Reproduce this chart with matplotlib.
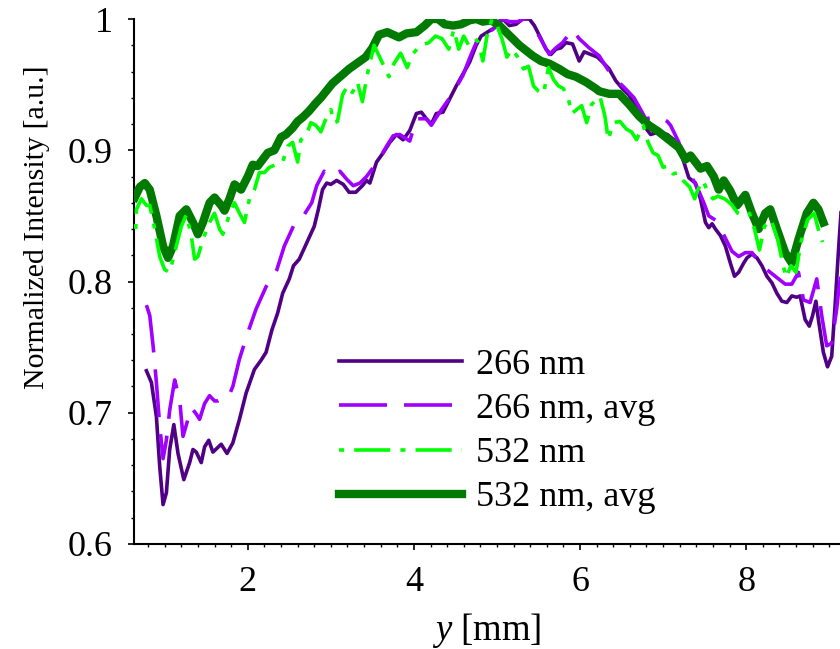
import matplotlib
matplotlib.use('Agg')
import matplotlib.pyplot as plt
from matplotlib.ticker import MultipleLocator, FuncFormatter

# Data
x_266 = [0.78, 0.84, 0.90, 0.94, 0.98, 1.02, 1.06, 1.11, 1.16, 1.23, 1.30, 1.34, 1.38, 1.44, 1.48,
         1.53, 1.58, 1.63, 1.68, 1.75, 1.82, 1.90, 1.98, 2.08, 2.16, 2.22, 2.29, 2.36, 2.42, 2.50,
         2.55, 2.62, 2.67, 2.75, 2.80, 2.85, 2.90, 2.95, 3.00, 3.07, 3.15, 3.22, 3.30, 3.38, 3.43,
         3.47, 3.55, 3.63, 3.71, 3.79, 3.87, 3.95, 4.03, 4.09, 4.15, 4.21, 4.27, 4.35, 4.43, 4.51,
         4.59, 4.67, 4.75, 4.81, 4.91, 4.99, 5.07, 5.15, 5.23, 5.31, 5.39, 5.45, 5.53, 5.59, 5.65,
         5.71, 5.77, 5.83, 5.91, 5.99, 6.05, 6.13, 6.21, 6.29, 6.35, 6.43, 6.51, 6.59, 6.67, 6.73,
         6.79, 6.85, 6.95, 7.05, 7.13, 7.19, 7.25, 7.31, 7.39, 7.45, 7.51, 7.55, 7.59, 7.63, 7.69,
         7.75, 7.81, 7.86, 7.91, 7.97, 8.01, 8.07, 8.13, 8.19, 8.25, 8.31, 8.37, 8.43, 8.49, 8.55,
         8.61, 8.65, 8.71, 8.76, 8.80, 8.84, 8.87, 8.93, 8.98, 9.03, 9.07, 9.11, 9.15]
y_266 = [0.732, 0.723, 0.697, 0.659, 0.630, 0.639, 0.672, 0.691, 0.669, 0.649, 0.662, 0.672, 0.670,
         0.662, 0.674, 0.679, 0.670, 0.673, 0.676, 0.669, 0.677, 0.695, 0.715, 0.733, 0.740, 0.746,
         0.763, 0.776, 0.791, 0.802, 0.812, 0.817, 0.824, 0.835, 0.842, 0.855, 0.870, 0.875, 0.874,
         0.877, 0.874, 0.868, 0.868, 0.873, 0.877, 0.875, 0.891, 0.898, 0.906, 0.912, 0.908, 0.915,
         0.928, 0.929, 0.924, 0.920, 0.928, 0.929, 0.939, 0.949, 0.958, 0.967, 0.980, 0.987, 0.991,
         0.994, 1.000, 0.995, 0.996, 1.000, 1.000, 0.995, 0.985, 0.977, 0.973, 0.977, 0.978, 0.982,
         0.981, 0.968, 0.975, 0.973, 0.971, 0.966, 0.962, 0.953, 0.947, 0.942, 0.933, 0.929, 0.917,
         0.912, 0.914, 0.912, 0.908, 0.903, 0.891, 0.879, 0.875, 0.863, 0.845, 0.841, 0.844, 0.840,
         0.835, 0.827, 0.814, 0.804, 0.807, 0.814, 0.818, 0.821, 0.818, 0.812, 0.804, 0.799, 0.791,
         0.785, 0.784, 0.789, 0.788, 0.789, 0.771, 0.766, 0.774, 0.785, 0.771, 0.746, 0.735, 0.743,
         0.781, 0.822, 0.860]

x_266_avg = [0.78, 0.82, 0.86, 0.90, 0.94, 0.98, 1.02, 1.06, 1.12, 1.18, 1.22, 1.28, 1.32, 1.38,
             1.42, 1.48, 1.54, 1.60, 1.64, 1.70, 1.76, 1.82, 1.90, 2.00, 2.10, 2.22, 2.35, 2.44,
             2.57, 2.67, 2.77, 2.83, 2.92, 2.99, 3.11, 3.19, 3.27, 3.35, 3.43, 3.57, 3.67, 3.75,
             3.83, 3.95, 4.03, 4.15, 4.21, 4.31, 4.41, 4.51, 4.59, 4.67, 4.75, 4.85, 4.95, 5.05,
             5.15, 5.25, 5.35, 5.41, 5.49, 5.55, 5.63, 5.71, 5.79, 5.91, 5.99, 6.11, 6.23, 6.33,
             6.43, 6.53, 6.65, 6.73, 6.79, 6.87, 6.97, 7.05, 7.09, 7.19, 7.25, 7.35, 7.43, 7.49,
             7.55, 7.65, 7.75, 7.83, 7.91, 7.99, 8.07, 8.17, 8.25, 8.35, 8.47, 8.55, 8.63, 8.69,
             8.77, 8.85, 8.91, 8.97, 9.03, 9.09, 9.11, 9.15]
y_266_avg = [0.782, 0.774, 0.751, 0.723, 0.690, 0.665, 0.679, 0.702, 0.725, 0.710, 0.682, 0.695,
             0.704, 0.699, 0.695, 0.707, 0.713, 0.709, 0.709, 0.711, 0.711, 0.720, 0.741, 0.761,
             0.779, 0.796, 0.809, 0.827, 0.845, 0.850, 0.860, 0.873, 0.884, 0.880, 0.884, 0.878,
             0.873, 0.875, 0.880, 0.892, 0.903, 0.911, 0.912, 0.907, 0.924, 0.924, 0.919, 0.929,
             0.938, 0.948, 0.957, 0.970, 0.982, 0.989, 0.992, 1.000, 0.998, 0.998, 1.001, 1.001,
             0.989, 0.982, 0.973, 0.978, 0.982, 0.992, 0.985, 0.978, 0.972, 0.962, 0.954, 0.948,
             0.940, 0.931, 0.924, 0.925, 0.925, 0.922, 0.919, 0.906, 0.893, 0.879, 0.869, 0.860,
             0.850, 0.846, 0.833, 0.823, 0.819, 0.822, 0.822, 0.814, 0.809, 0.804, 0.798, 0.798,
             0.807, 0.786, 0.784, 0.802, 0.774, 0.751, 0.753, 0.779, 0.791, 0.810]

x_532 = [0.65, 0.66, 0.72, 0.78, 0.82, 0.88, 0.94, 1.00, 1.06, 1.12, 1.20, 1.26, 1.32, 1.36, 1.40,
         1.46, 1.54, 1.60, 1.66, 1.70, 1.78, 1.84, 1.90, 1.96, 2.02, 2.08, 2.14, 2.20, 2.26, 2.34,
         2.42, 2.48, 2.54, 2.60, 2.64, 2.70, 2.76, 2.82, 2.88, 2.94, 3.00, 3.04, 3.08, 3.14, 3.20,
         3.26, 3.32, 3.38, 3.44, 3.52, 3.58, 3.64, 3.70, 3.76, 3.84, 3.92, 3.98, 4.08, 4.18, 4.26,
         4.34, 4.42, 4.48, 4.54, 4.60, 4.66, 4.74, 4.78, 4.83, 4.88, 4.94, 5.00, 5.06, 5.12, 5.18,
         5.24, 5.32, 5.38, 5.44, 5.50, 5.56, 5.62, 5.68, 5.74, 5.80, 5.86, 5.90, 5.96, 6.02, 6.08,
         6.14, 6.24, 6.30, 6.34, 6.40, 6.48, 6.56, 6.62, 6.68, 6.76, 6.82, 6.88, 6.94, 7.00, 7.06,
         7.12, 7.18, 7.24, 7.32, 7.38, 7.42, 7.48, 7.54, 7.60, 7.66, 7.74, 7.82, 7.90, 7.98, 8.04,
         8.10, 8.16, 8.22, 8.30, 8.38, 8.44, 8.48, 8.54, 8.60, 8.66, 8.74, 8.82, 8.88, 8.92]
y_532 = [0.840, 0.855, 0.863, 0.858, 0.858, 0.840, 0.819, 0.809, 0.807, 0.822, 0.842, 0.851, 0.835,
         0.817, 0.819, 0.832, 0.845, 0.852, 0.840, 0.836, 0.851, 0.860, 0.852, 0.845, 0.863, 0.870,
         0.883, 0.883, 0.887, 0.889, 0.891, 0.903, 0.906, 0.891, 0.908, 0.911, 0.921, 0.919, 0.914,
         0.924, 0.931, 0.921, 0.922, 0.942, 0.949, 0.944, 0.952, 0.937, 0.958, 0.980, 0.972, 0.964,
         0.956, 0.966, 0.974, 0.963, 0.973, 0.980, 0.982, 0.987, 0.985, 0.977, 0.992, 0.977, 0.987,
         0.980, 0.985, 0.982, 0.968, 0.987, 1.000, 0.995, 0.985, 0.971, 0.977, 0.972, 0.962, 0.964,
         0.949, 0.945, 0.943, 0.963, 0.954, 0.949, 0.947, 0.939, 0.928, 0.931, 0.934, 0.921, 0.935,
         0.941, 0.926, 0.908, 0.921, 0.922, 0.916, 0.914, 0.908, 0.919, 0.906, 0.898, 0.896, 0.887,
         0.888, 0.882, 0.883, 0.877, 0.872, 0.863, 0.870, 0.877, 0.868, 0.863, 0.865, 0.863, 0.859,
         0.852, 0.850, 0.852, 0.840, 0.824, 0.842, 0.847, 0.832, 0.814, 0.803, 0.812, 0.807, 0.830,
         0.847, 0.852, 0.837, 0.830]

x_532_avg = [0.64, 0.70, 0.76, 0.82, 0.90, 0.98, 1.04, 1.10, 1.18, 1.26, 1.34, 1.40, 1.46, 1.54,
             1.60, 1.68, 1.72, 1.78, 1.84, 1.92, 2.00, 2.06, 2.12, 2.18, 2.24, 2.32, 2.40, 2.46,
             2.54, 2.60, 2.66, 2.74, 2.82, 2.88, 3.02, 3.22, 3.42, 3.50, 3.58, 3.68, 3.75, 3.82,
             3.91, 4.03, 4.13, 4.21, 4.29, 4.37, 4.47, 4.57, 4.67, 4.75, 4.83, 4.93, 5.03, 5.11,
             5.19, 5.27, 5.35, 5.43, 5.53, 5.63, 5.75, 5.85, 5.95, 6.07, 6.19, 6.23, 6.35, 6.47,
             6.59, 6.71, 6.83, 6.95, 7.07, 7.19, 7.27, 7.33, 7.39, 7.45, 7.53, 7.61, 7.67, 7.73,
             7.81, 7.89, 7.99, 8.07, 8.15, 8.23, 8.29, 8.37, 8.47, 8.55, 8.63, 8.73, 8.81, 8.87,
             8.93]
y_532_avg = [0.864, 0.872, 0.875, 0.870, 0.850, 0.827, 0.818, 0.827, 0.850, 0.855, 0.845, 0.836,
             0.845, 0.860, 0.864, 0.858, 0.854, 0.863, 0.874, 0.870, 0.880, 0.889, 0.888, 0.893,
             0.898, 0.900, 0.910, 0.912, 0.917, 0.922, 0.925, 0.930, 0.936, 0.940, 0.951, 0.962,
             0.971, 0.978, 0.988, 0.990, 0.988, 0.986, 0.989, 0.990, 0.995, 1.000, 1.000, 0.996,
             0.995, 0.996, 0.999, 1.000, 0.998, 0.999, 0.995, 0.990, 0.985, 0.980, 0.976, 0.972,
             0.968, 0.966, 0.962, 0.958, 0.956, 0.952, 0.947, 0.945, 0.943, 0.943, 0.935, 0.926,
             0.919, 0.914, 0.908, 0.902, 0.893, 0.896, 0.891, 0.886, 0.888, 0.880, 0.870, 0.877,
             0.869, 0.858, 0.866, 0.852, 0.840, 0.852, 0.855, 0.840, 0.822, 0.814, 0.832, 0.852,
             0.860, 0.855, 0.845]

labels = ['266 nm', '266 nm, avg', '532 nm', '532 nm, avg']
y_ticks = [0.6, 0.7, 0.8, 0.9, 1.0]
x_ticks = [2, 4, 6, 8]

plt.rcParams['font.family'] = ['Liberation Serif', 'DejaVu Serif']
plt.rcParams['mathtext.fontset'] = 'custom'
plt.rcParams['mathtext.it'] = 'Liberation Serif:italic'
plt.rcParams['mathtext.rm'] = 'Liberation Serif'

fig = plt.figure(figsize=(8.4, 6.49), dpi=100)
ax = fig.add_axes([0.1595, 0.1618, 0.8405, 0.8089])

l1, = ax.plot(x_266, y_266, color='#4f0084', lw=2.6, zorder=2)
l2, = ax.plot(x_266_avg, y_266_avg, color='#a000ff', lw=2.6, dashes=(13.3, 4.7), zorder=3)
l4, = ax.plot(x_532_avg, y_532_avg, color='#007a00', lw=6, zorder=4)
l3, = ax.plot(x_532, y_532, color='#00ff00', lw=2.6, dashes=(1.4, 2.8, 10, 2.8), zorder=5)

ax.set_xlim(0.63, 9.13)
ax.set_ylim(0.6, 1.0)
ax.set_xticks(x_ticks)
ax.set_yticks(y_ticks)
ax.xaxis.set_minor_locator(MultipleLocator(0.2))
ax.yaxis.set_minor_locator(MultipleLocator(0.02))
ax.yaxis.set_major_formatter(FuncFormatter(lambda v, p: '1' if abs(v - 1) < 1e-9 else f'{v:.1f}'))

for s in ['top', 'right']:
    ax.spines[s].set_visible(False)
for s in ['left', 'bottom']:
    ax.spines[s].set_linewidth(1.5)

ax.tick_params(which='major', direction='out', length=4.5, width=1.2, labelsize=26)
ax.tick_params(which='minor', direction='out', length=2.3, width=1.0)
ax.tick_params(axis='x', which='major', pad=11)
ax.tick_params(axis='y', which='major', pad=11)

ax.set_xlabel('$y$ [mm]', fontsize=26.5, labelpad=9)
ax.set_ylabel('Normalized Intensity [a.u.]', fontsize=21.5)
ax.yaxis.set_label_coords(-0.119, 0.604)

ax.legend([l1, l2, l3, l4], labels, loc='upper left', bbox_to_anchor=(0.290, 0.372),
          frameon=False, fontsize=26, borderpad=0, borderaxespad=0,
          handlelength=3.4, handletextpad=0.4, labelspacing=0.3)

fig.savefig('out.png', dpi=100)
